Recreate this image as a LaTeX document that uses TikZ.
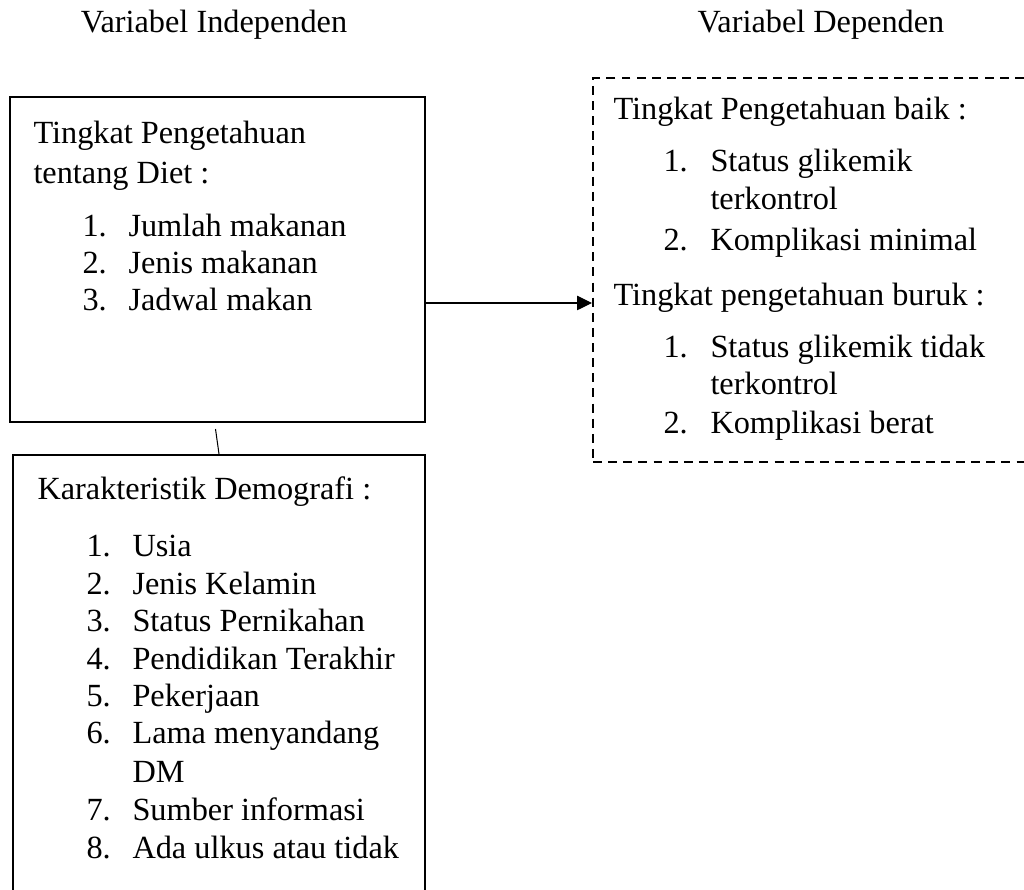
\documentclass[tikz,border=0pt]{standalone}
\usepackage{fontspec}
\setmainfont{Liberation Serif}
\usetikzlibrary{arrows.meta,calc}
\newcommand{\px}{0.39pt}

\begin{document}
\begin{tikzpicture}[x=0.39pt,y=-0.39pt,
	every node/.style={font=\fontsize{12.6}{15}\selectfont},
	kotak/.style={draw, line width=0.8pt, inner sep=0pt},
	putus/.style={draw, line width=0.8pt, inner sep=0pt, dash pattern=on 3.5pt off 2.4pt},
	teks/.style={anchor=base west, inner sep=0pt},
	judul/.style={anchor=base, inner sep=0pt}]
	\useasboundingbox (0,0) rectangle (1024,890);
	% judul
	\node[judul] (indep) at (214,33) {Variabel Independen};
	\node[judul] (dep) at (821,33) {Variabel Dependen};
	% kotak
	\node[kotak, minimum width=415*\px, minimum height=325*\px] (diet) at (217.5,259.5) {};
	\node[kotak, minimum width=412*\px, minimum height=445*\px] (demo) at (219,677.5) {};
	\node[putus, minimum width=447*\px, minimum height=384*\px] (hasil) at (816.5,270) {};
	% garis
	\coordinate (a) at (0,303);
	\draw[line width=0.4pt, -{Triangle[length=5.8pt,width=5.6pt]}] (diet.east |- a) -- (hasil.west |- a);
	\draw[line width=0.4pt] ([shift={(-2,6)}]diet.south) -- (demo.north);
	% isi kotak diet
	\node[teks] (d0) at (33,144) {Tingkat Pengetahuan};
	\node[teks] (d00) at (33,184) {tentang Diet :};
	\foreach \i/\t/\y in {1/Jumlah makanan/237, 2/Jenis makanan/274, 3/Jadwal makan/311} {
		\node[teks] (dn\i) at (82,\y) {\i.};
		\node[teks] (d\i) at (128,\y) {\t};
	}
	% isi kotak hasil
	\node[teks] (h0) at (613,120) {Tingkat Pengetahuan baik :};
	\node[teks] (hn1) at (663,172) {1.};
	\node[teks] (h1) at (710,172) {Status glikemik};
	\node[teks] (h1b) at (710,210) {terkontrol};
	\node[teks] (hn2) at (663,251) {2.};
	\node[teks] (h2) at (710,251) {Komplikasi minimal};
	\node[teks] (b0) at (613,306) {Tingkat pengetahuan buruk :};
	\node[teks] (bn1) at (663,358) {1.};
	\node[teks] (b1) at (710,358) {Status glikemik tidak};
	\node[teks] (b1b) at (710,395) {terkontrol};
	\node[teks] (bn2) at (663,434) {2.};
	\node[teks] (b2) at (710,434) {Komplikasi berat};
	% isi kotak demografi
	\node[teks] (k0) at (37,500) {Karakteristik Demografi :};
	\foreach \i/\t/\y in {1/Usia/557, 2/Jenis Kelamin/595, 3/Status Pernikahan/632, 4/Pendidikan Terakhir/670, 5/Pekerjaan/707, 6/Lama menyandang/744, 7/Sumber informasi/821, 8/Ada ulkus atau tidak/859} {
		\node[teks] (kn\i) at (86,\y) {\i.};
		\node[teks] (k\i) at (132,\y) {\t};
	}
	\node[teks] (k6b) at (132,783) {DM};
\end{tikzpicture}
\end{document}
